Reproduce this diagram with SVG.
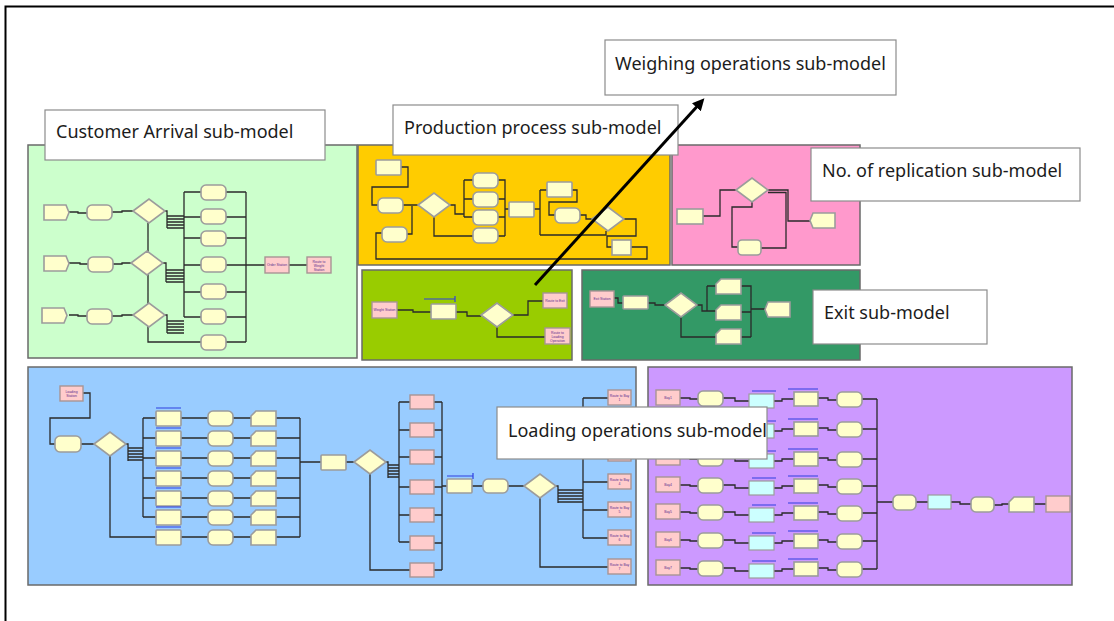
<svg xmlns="http://www.w3.org/2000/svg" width="1114" height="621" viewBox="0 0 1114 621">
<style>
.bg{stroke:#6a6a6a;stroke-width:1.5}
.w{fill:none;stroke:#2a2a2a;stroke-width:1.3}
.y{fill:#ffffcc;stroke:#9c9c9c;stroke-width:1.6}
.k{fill:#ffcccc;stroke:#a89494;stroke-width:1.4}
.c{fill:#ccffff;stroke:#9c9c9c;stroke-width:1.2}
.bar{fill:none;stroke:#2f3fe0;stroke-width:1.2}
.lb{fill:#ffffff;stroke:#8c8c8c;stroke-width:1.2}
.lt{font-family:"Noto Sans","DejaVu Sans",sans-serif;font-size:18px;fill:#1c1c1c}
.t{font-family:"Liberation Sans",Arial,sans-serif;font-size:3.4px;text-anchor:middle;fill:#5b2d8e}
</style>
<defs>
<rect id="bx" width="25" height="15" rx="1"/>
<rect id="rb" width="25" height="15" rx="5"/>
<path id="cr" d="M0,0H22L25,7.5L22,15H0Z"/>
<path id="dp" d="M3,0H25V15H3L0,7.5Z"/>
<path id="fd" d="M5,0H25V15H0V5Z"/>
<path id="dm" d="M0,12L16,0L32,12L16,24Z"/>
<marker id="ah" viewBox="0 0 10 10" refX="7" refY="5" markerWidth="4" markerHeight="4" orient="auto"><path d="M0,0L10,5L0,10Z" fill="#000"/></marker>
</defs>

<!-- page frame -->
<g id="frame" fill="none" stroke="#000" stroke-width="2">
<path d="M5.5,621V6.5H1114"/>
</g>

<!-- Customer Arrival sub-model -->
<g id="customer-arrival">
<rect class="bg" x="28" y="145" width="329" height="213" fill="#ccffcc"/>
<path class="w" d="M69,212H78V213H87M111,212H122V211H133M69,263H80V264H88M113,264H122V263H131M69,315H78V316H87M111,316H122V315H133"/>
<path class="w" d="M165,211H167V228M167,216H184M167,219H184M167,222H184M167,225H184M167,228H184"/>
<path class="w" d="M163,263H166V282M166,270H184M166,273H184M166,276H184M166,279H184M166,282H184"/>
<path class="w" d="M165,315H167V333M167,321H184M167,324H184M167,327H184M167,330H184M167,333H184"/>
<path class="w" d="M184,192V317M184,192H201M184,217H201M184,238H201M184,265H201M184,292H201M184,317H201M148,223V342H201"/>
<path class="w" d="M226,192H246M226,217H246M226,238H246M226,265H246M226,292H246M226,317H246M226,342H246M246,192V342M246,265H265M289,265H307"/>
<use href="#cr" class="y" x="44" y="205"/><use href="#cr" class="y" x="44" y="256"/><use href="#cr" class="y" x="42" y="308"/>
<use href="#rb" class="y" x="87" y="205"/><use href="#rb" class="y" x="88" y="257"/><use href="#rb" class="y" x="87" y="309"/>
<use href="#dm" class="y" x="133" y="199"/><use href="#dm" class="y" x="131" y="251"/><use href="#dm" class="y" x="133" y="303"/>
<use href="#rb" class="y" x="201" y="185"/><use href="#rb" class="y" x="201" y="209"/><use href="#rb" class="y" x="201" y="231"/><use href="#rb" class="y" x="201" y="257"/><use href="#rb" class="y" x="201" y="284"/><use href="#rb" class="y" x="201" y="309"/><use href="#rb" class="y" x="201" y="335"/>
<rect class="k" x="265" y="257" width="24" height="16"/>
<rect class="k" x="307" y="257" width="24" height="16"/>
<text class="t" x="277" y="266">Order Station</text>
<text class="t" x="319" y="263">Route to</text><text class="t" x="319" y="267">Weight</text><text class="t" x="319" y="271">Station</text>
</g>

<!-- Production process sub-model -->
<g id="production-process">
<rect class="bg" x="358" y="145" width="312" height="120" fill="#ffcc00"/>
<path class="w" d="M401,167H408V187H372V205H378M403,205H418M407,234H412V206M450,205H455V214H464M464,180V217M464,180H473M464,199H473M464,217H473M434,217V236H473"/>
<path class="w" d="M498,180H505V236M498,199H505M498,217H505M498,236H505M505,209H509M534,209H540M540,190V235M540,190H547M540,235H606V231M572,190H577V202H549V215H555M580,215H586V219H592"/>
<path class="w" d="M624,219H636V236H607V247H612M631,247H647V259H376V233H382"/>
<use href="#bx" class="y" x="376" y="160"/>
<use href="#rb" class="y" x="378" y="198"/>
<use href="#rb" class="y" x="382" y="227"/>
<use href="#dm" class="y" x="418" y="193"/>
<use href="#rb" class="y" x="473" y="173"/><use href="#rb" class="y" x="473" y="192"/><use href="#rb" class="y" x="473" y="210"/><use href="#rb" class="y" x="473" y="228"/>
<use href="#bx" class="y" x="509" y="202"/>
<use href="#bx" class="y" x="547" y="182"/>
<use href="#rb" class="y" x="555" y="208"/>
<use href="#dm" class="y" x="592" y="207"/>
<rect class="y" x="612" y="240" width="19" height="15"/>
</g>

<!-- No. of replication sub-model -->
<g id="replication">
<rect class="bg" x="672" y="145" width="188" height="120" fill="#ff99cc"/>
<path class="w" d="M703,216H720V190H736M768,190H788V221H810M768,192.5H786V221M752,202V207H732V247H738M761,248H786V221"/>
<rect class="y" x="677" y="209" width="26" height="15"/>
<use href="#dm" class="y" x="736" y="178"/>
<rect class="y" x="738" y="240" width="23" height="15" rx="4"/>
<use href="#dp" class="y" x="810" y="213"/>
</g>

<!-- Weighing operations sub-model -->
<g id="weighing-operations">
<rect class="bg" x="362" y="270" width="210" height="90" fill="#99cc00"/>
<path class="w" d="M397,310H413V312H431M456,312H467V316H481M513,315H528V301H543M497,327V337H545"/>
<rect class="k" x="372" y="302" width="25" height="16"/>
<use href="#bx" class="y" x="431" y="304"/>
<path class="bar" d="M424,299H455M455,296V302"/>
<use href="#dm" class="y" x="481" y="303"/>
<rect class="k" x="543" y="293" width="24" height="15"/>
<rect class="k" x="545" y="328" width="25" height="16"/>
<text class="t" x="384.5" y="311">Weight Station</text>
<text class="t" x="555" y="302">Route to Exit</text>
<text class="t" x="557.5" y="334">Route to</text><text class="t" x="557.5" y="338">Loading</text><text class="t" x="557.5" y="342">Operation</text>
</g>

<!-- Exit sub-model -->
<g id="exit">
<rect class="bg" x="582" y="270" width="278" height="90" fill="#339966"/>
<path class="w" d="M614,298H618V303H623M648,303H655V305H665M697,305H702V311H716M707,286V311M707,286H716M681,317V337H716M741,286H751V337M741,312H751M741,337H751M751,309H765"/>
<rect class="k" x="590" y="291" width="24" height="16"/>
<rect class="y" x="623" y="296" width="25" height="13" rx="1"/>
<use href="#dm" class="y" x="665" y="293"/>
<use href="#fd" class="y" x="716" y="279"/><use href="#fd" class="y" x="716" y="305"/><use href="#fd" class="y" x="716" y="329"/>
<use href="#dp" class="y" x="765" y="302"/>
<text class="t" x="602" y="300">Exit Station</text>
</g>

<!-- Loading operations sub-model: loader assignment -->
<g id="loading-operations">
<rect class="bg" x="28" y="367" width="608" height="218" fill="#99ccff"/>
<path class="w" d="M83,393H90V418H50V444H55M81,444H94M126,444H128V461M128,448H143M128,451H143M128,454H143M128,457H143M128,460H143M143,418V517"/>
<path class="w" d="M143,418H156M143,438H156M143,458H156M143,478H156M143,498H156M143,517H156M110,456V537H156"/>
<path class="w" d="M181,418H208M181,438H208M181,458H208M181,478H208M181,498H208M181,517H208M181,537H208"/>
<path class="w" d="M233,418H251M233,438H251M233,458H251M233,478H251M233,498H251M233,517H251M233,537H251"/>
<path class="w" d="M276,418H300M276,438H300M276,458H300M276,478H300M276,498H300M276,517H300M276,537H300M300,418V537M300,462H321M346,462H354"/>
<path class="w" d="M386,462H388V478M388,465H399M388,468H399M388,471H399M388,474H399M388,477H399M399,402V542"/>
<path class="w" d="M399,402H410M399,430H410M399,457H410M399,487H410M399,515H410M399,542H410M370,474V570H410"/>
<path class="w" d="M434,402H442M434,430H442M434,457H442M434,487H442M434,515H442M434,543H442M434,570H442M442,402V570M442,486H447M472,486H483M508,486H524"/>
<path class="w" d="M556,486H558V503M558,490H583M558,493H583M558,496H583M558,499H583M558,502H583M583,398V538"/>
<path class="w" d="M583,398H608M583,426H608M583,454H608M583,482H608M583,510H608M583,538H608M540,498V567H608"/>
<rect class="k" x="60" y="386" width="23" height="15"/>
<rect class="y" x="55" y="436" width="26" height="16" rx="5"/>
<use href="#dm" class="y" x="94" y="432"/>
<g id="seize-column">
<use href="#bx" class="y" x="156" y="411"/><use href="#bx" class="y" x="156" y="431"/><use href="#bx" class="y" x="156" y="451"/><use href="#bx" class="y" x="156" y="471"/><use href="#bx" class="y" x="156" y="491"/><use href="#bx" class="y" x="156" y="510"/><use href="#bx" class="y" x="156" y="530"/>
<path class="bar" d="M156,408H181M156,428H181M156,448H181M156,468H181M156,488H181M156,507H181M156,527H181"/>
</g>
<use href="#rb" class="y" x="208" y="411"/><use href="#rb" class="y" x="208" y="431"/><use href="#rb" class="y" x="208" y="451"/><use href="#rb" class="y" x="208" y="471"/><use href="#rb" class="y" x="208" y="491"/><use href="#rb" class="y" x="208" y="510"/><use href="#rb" class="y" x="208" y="530"/>
<use href="#fd" class="y" x="251" y="411"/><use href="#fd" class="y" x="251" y="431"/><use href="#fd" class="y" x="251" y="451"/><use href="#fd" class="y" x="251" y="471"/><use href="#fd" class="y" x="251" y="491"/><use href="#fd" class="y" x="251" y="510"/><use href="#fd" class="y" x="251" y="530"/>
<use href="#bx" class="y" x="321" y="455"/>
<use href="#dm" class="y" x="354" y="450"/>
<rect class="k" x="410" y="395" width="24" height="14"/><rect class="k" x="410" y="423" width="24" height="14"/><rect class="k" x="410" y="450" width="24" height="14"/><rect class="k" x="410" y="480" width="24" height="14"/><rect class="k" x="410" y="508" width="24" height="14"/><rect class="k" x="410" y="536" width="24" height="14"/><rect class="k" x="410" y="563" width="24" height="14"/>
<rect class="y" x="447" y="479" width="25" height="14" rx="1"/>
<path class="bar" d="M447,476H473M473,473V479"/>
<rect class="y" x="483" y="479" width="25" height="14" rx="5"/>
<use href="#dm" class="y" x="524" y="474"/>
<rect class="k" x="608" y="390" width="23" height="15"/><rect class="k" x="608" y="418" width="23" height="15"/><rect class="k" x="608" y="446" width="23" height="15"/><rect class="k" x="608" y="474" width="23" height="15"/><rect class="k" x="608" y="502" width="23" height="15"/><rect class="k" x="608" y="530" width="23" height="15"/><rect class="k" x="608" y="559" width="23" height="15"/>
<text class="t" x="71.5" y="393">Loading</text><text class="t" x="71.5" y="397">Station</text>
<text class="t" x="619.5" y="397">Route to Bay</text><text class="t" x="619.5" y="401">1</text>
<text class="t" x="619.5" y="481">Route to Bay</text><text class="t" x="619.5" y="485">4</text>
<text class="t" x="619.5" y="509">Route to Bay</text><text class="t" x="619.5" y="513">5</text>
<text class="t" x="619.5" y="537">Route to Bay</text><text class="t" x="619.5" y="541">6</text>
<text class="t" x="619.5" y="566">Route to Bay</text><text class="t" x="619.5" y="570">7</text>
</g>

<!-- Loading operations sub-model: bay processing -->
<g id="bay-loading">
<rect class="bg" x="648" y="367" width="424" height="218" fill="#cc99ff"/>
<path class="w" d="M680,398H690V399H698M723,398H735V401H749M774,401H782V399H794M818,398H828V400H837M862,399H877"/>
<path class="w" d="M680,428H690V429H698M723,428H735V431H749M774,431H782V429H794M818,428H828V430H837M862,429H877"/>
<path class="w" d="M680,458H690V459H698M723,458H735V461H749M774,461H782V459H794M818,458H828V460H837M862,459H877"/>
<path class="w" d="M680,485H690V486H698M723,485H735V488H749M774,488H782V486H794M818,485H828V487H837M862,486H877"/>
<path class="w" d="M680,512H690V513H698M723,512H735V515H749M774,515H782V513H794M818,512H828V514H837M862,513H877"/>
<path class="w" d="M680,540H690V541H698M723,540H735V543H749M774,543H782V541H794M818,540H828V542H837M862,541H877"/>
<path class="w" d="M680,568H690V569H698M723,568H735V571H749M774,571H782V569H794M818,568H828V570H837M862,569H877"/>
<path class="w" d="M877,399V569M877,502H893M916,502H928M951,502H960V504H971M994,505H1002V504H1009M1034,504H1046"/>
<rect class="k" x="656" y="390" width="24" height="15"/><rect class="k" x="656" y="420" width="24" height="15"/><rect class="k" x="656" y="450" width="24" height="15"/><rect class="k" x="656" y="477" width="24" height="15"/><rect class="k" x="656" y="504" width="24" height="15"/><rect class="k" x="656" y="532" width="24" height="15"/><rect class="k" x="656" y="560" width="24" height="15"/>
<use href="#rb" class="y" x="698" y="391"/><use href="#rb" class="y" x="698" y="421"/><use href="#rb" class="y" x="698" y="451"/><use href="#rb" class="y" x="698" y="478"/><use href="#rb" class="y" x="698" y="505"/><use href="#rb" class="y" x="698" y="533"/><use href="#rb" class="y" x="698" y="561"/>
<rect class="c" x="749" y="394" width="25" height="14"/><rect class="c" x="749" y="424" width="25" height="14"/><rect class="c" x="749" y="454" width="25" height="14"/><rect class="c" x="749" y="481" width="25" height="14"/><rect class="c" x="749" y="508" width="25" height="14"/><rect class="c" x="749" y="536" width="25" height="14"/><rect class="c" x="749" y="564" width="25" height="14"/>
<path class="bar" d="M752,391H776M752,421H776M752,451H776M752,478H776M752,505H776M752,533H776M752,561H776"/>
<rect class="y" x="794" y="392" width="24" height="14"/><rect class="y" x="794" y="422" width="24" height="14"/><rect class="y" x="794" y="452" width="24" height="14"/><rect class="y" x="794" y="479" width="24" height="14"/><rect class="y" x="794" y="506" width="24" height="14"/><rect class="y" x="794" y="534" width="24" height="14"/><rect class="y" x="794" y="562" width="24" height="14"/>
<path class="bar" d="M788,389H818M788,419H818M788,449H818M788,476H818M788,503H818M788,531H818M788,559H818"/>
<use href="#rb" class="y" x="837" y="392"/><use href="#rb" class="y" x="837" y="422"/><use href="#rb" class="y" x="837" y="452"/><use href="#rb" class="y" x="837" y="479"/><use href="#rb" class="y" x="837" y="506"/><use href="#rb" class="y" x="837" y="534"/><use href="#rb" class="y" x="837" y="562"/>
<rect class="y" x="893" y="495" width="23" height="15" rx="5"/>
<rect class="c" x="928" y="495" width="23" height="14"/>
<rect class="y" x="971" y="497" width="23" height="15" rx="5"/>
<use href="#fd" class="y" x="1009" y="497"/>
<rect class="k" x="1046" y="496" width="24" height="16"/>
<text class="t" x="668" y="399">Bay1</text>
<text class="t" x="668" y="486">Bay4</text>
<text class="t" x="668" y="513">Bay5</text>
<text class="t" x="668" y="541">Bay6</text>
<text class="t" x="668" y="569">Bay7</text>
</g>

<!-- sub-model captions -->
<g id="label-customer-arrival"><rect class="lb" x="45" y="110" width="280" height="50"/><text class="lt" x="56" y="138">Customer Arrival sub-model</text></g>
<g id="label-production"><rect class="lb" x="393" y="105" width="285" height="50"/><text class="lt" x="404" y="134">Production process sub-model</text></g>
<g id="label-weighing"><rect class="lb" x="605" y="40" width="291" height="55"/><text class="lt" x="615" y="70">Weighing operations sub-model</text></g>
<g id="label-replication"><rect class="lb" x="811" y="148" width="269" height="53"/><text class="lt" x="822" y="177">No. of replication sub-model</text></g>
<g id="label-exit"><rect class="lb" x="813" y="290" width="174" height="54"/><text class="lt" x="824" y="319">Exit sub-model</text></g>
<g id="label-loading"><rect class="lb" x="497" y="407" width="270" height="52"/><text class="lt" x="508" y="437">Loading operations sub-model</text></g>

<!-- connectors -->
<g id="connectors">
<path d="M535,285L702,101" fill="none" stroke="#000" stroke-width="3" marker-end="url(#ah)"/>
</g>
</svg>
